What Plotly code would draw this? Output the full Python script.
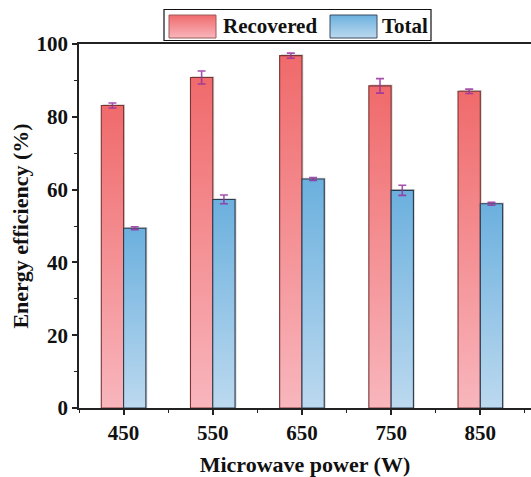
import plotly.graph_objects as go

# ---- data ----
powers = [450, 550, 650, 750, 850]
recovered = [83.1, 90.8, 96.8, 88.5, 87.0]
recovered_err = [0.7, 1.8, 0.7, 2.0, 0.6]
total = [49.4, 57.3, 62.9, 59.8, 56.1]
total_err = [0.4, 1.2, 0.4, 1.4, 0.4]
y_ticks = [0, 20, 40, 60, 80, 100]
series_names = ["Recovered", "Total"]

# ---- style ----
BAR_W = 25
FONT = "Liberation Serif"
RED_TOP, RED_BOT = "#f06a6b", "#f8b6bd"
BLUE_TOP, BLUE_BOT = "#6bb0de", "#bcd9ef"
RED_EDGE, BLUE_EDGE = "#7a3434", "#2a3c50"
ERR_COLOR = "rgba(150,50,160,0.85)"

fig = go.Figure()


def add_bars(xs, vals, offset, top, bot, edge):
    for x, v in zip(xs, vals):
        x0, x1 = x + offset, x + offset + BAR_W
        # soft shadow
        fig.add_trace(go.Scatter(
            x=[x0 + 1.6, x0 + 1.6, x1 + 1.6, x1 + 1.6, x0 + 1.6],
            y=[0, v + 0.35, v + 0.35, 0, 0], mode="lines", fill="toself",
            fillcolor="rgba(0,0,0,0.18)", line=dict(width=0),
            hoverinfo="skip", showlegend=False))
        fig.add_trace(go.Scatter(
            x=[x0, x0, x1, x1, x0], y=[0, v, v, 0, 0], mode="lines",
            fill="toself",
            fillgradient=dict(type="vertical",
                              colorscale=[[0, bot], [1, top]]),
            line=dict(color=edge, width=1.1),
            hoverinfo="skip", showlegend=False))


add_bars(powers, recovered, -BAR_W, RED_TOP, RED_BOT, RED_EDGE)
add_bars(powers, total, 0, BLUE_TOP, BLUE_BOT, BLUE_EDGE)

# error bars
fig.add_trace(go.Scatter(
    x=[p - BAR_W / 2 for p in powers], y=recovered, mode="markers",
    marker=dict(size=1, color="rgba(0,0,0,0)"),
    error_y=dict(type="data", array=recovered_err, color=ERR_COLOR,
                 thickness=1.6, width=4),
    showlegend=False, hoverinfo="skip"))
fig.add_trace(go.Scatter(
    x=[p + BAR_W / 2 for p in powers], y=total, mode="markers",
    marker=dict(size=1, color="rgba(0,0,0,0)"),
    error_y=dict(type="data", array=total_err, color=ERR_COLOR,
                 thickness=1.6, width=4),
    showlegend=False, hoverinfo="skip"))

# ---- custom legend (pixel-coordinate overlay axes) ----
LEG_Y0, LEG_Y1 = 15, 38
for (sx0, sx1), top, bot, edge, in [((169, 216), RED_TOP, RED_BOT, "#9a5a5a"),
                                    ((330, 377), BLUE_TOP, BLUE_BOT, "#3a4c60")]:
    fig.add_trace(go.Scatter(
        x=[sx0, sx0, sx1, sx1, sx0], y=[LEG_Y1, LEG_Y0, LEG_Y0, LEG_Y1, LEG_Y1],
        xaxis="x2", yaxis="y2", mode="lines", fill="toself",
        fillgradient=dict(type="vertical", colorscale=[[0, bot], [1, top]]),
        line=dict(color=edge, width=1), hoverinfo="skip", showlegend=False))

fig.add_shape(type="rect", xref="x2", yref="y2", x0=164, x1=431, y0=9.5, y1=40.5,
              line=dict(color="#111", width=1.2), fillcolor="rgba(0,0,0,0)")
fig.add_annotation(xref="x2", yref="y2", x=221, y=26, xanchor="left",
                   yanchor="middle", text="<b>%s</b>" % series_names[0],
                   showarrow=False, font=dict(family=FONT, size=21, color="#111"))
fig.add_annotation(xref="x2", yref="y2", x=380, y=26, xanchor="left",
                   yanchor="middle", text="<b>%s</b>" % series_names[1],
                   showarrow=False, font=dict(family=FONT, size=21, color="#111"))

# ---- layout ----
W, H = 531, 477
ML, MR, MT, MB = 79, 0, 4, 69
plot_h = H - MT - MB
y_top_px = 44
main_top = (H - MB - y_top_px) / plot_h
leg_dom = [(H - MB - 42) / plot_h, (H - MB - 6) / plot_h]

fig.update_layout(
    width=W, height=H,
    margin=dict(l=ML, r=MR, t=MT, b=MB, pad=0, autoexpand=False),
    paper_bgcolor="white", plot_bgcolor="white",
    font=dict(family=FONT, color="#111"),
    showlegend=False,
    xaxis=dict(
        range=[400, 400 + (W - ML) / 0.8918], domain=[0, 1],
        automargin=False,
        tickvals=powers, ticktext=["<b>%d</b>" % p for p in powers],
        ticks="outside", ticklen=5, tickwidth=1.5, tickcolor="#222",
        minor=dict(tickvals=[400, 500, 600, 700, 800, 900], ticks="outside",
                   ticklen=3, tickwidth=1.3, tickcolor="#222"),
        showline=True, linecolor="#222", linewidth=1.8, mirror=True,
        showgrid=False, zeroline=False,
        tickfont=dict(family=FONT, size=21, color="#111"),
        title=dict(text="<b>Microwave power (W)</b>", standoff=13,
                   font=dict(family=FONT, size=22, color="#111")),
    ),
    yaxis=dict(
        range=[0, 100], domain=[0, main_top],
        automargin=False,
        tickvals=y_ticks, ticktext=["<b>%d</b>" % t for t in y_ticks],
        ticks="outside", ticklen=5, tickwidth=1.5, tickcolor="#222",
        minor=dict(tickvals=[10, 30, 50, 70, 90], ticks="outside",
                   ticklen=3, tickwidth=1.3, tickcolor="#222"),
        showline=True, linecolor="#222", linewidth=1.8,
        showgrid=False, zeroline=False,
        tickfont=dict(family=FONT, size=21, color="#111"),
        title=dict(text="<b>Energy efficiency (%)</b>", standoff=2,
                   font=dict(family=FONT, size=22, color="#111")),
    ),
    xaxis2=dict(range=[ML, W], domain=[0, 1], anchor="y2", visible=False,
                fixedrange=True),
    yaxis2=dict(range=[42, 6], domain=leg_dom, anchor="x2", visible=False,
                fixedrange=True),
)

fig.write_html("out.html")
